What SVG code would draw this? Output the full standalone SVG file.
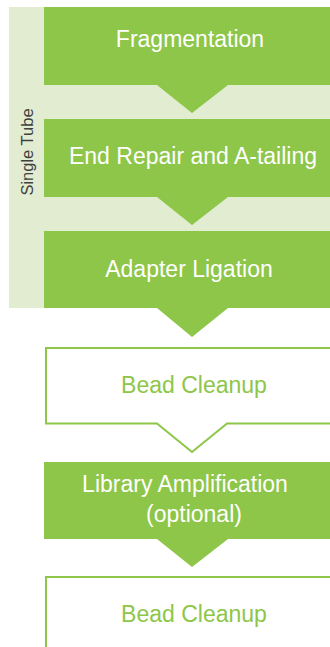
<svg xmlns="http://www.w3.org/2000/svg" width="330" height="647" viewBox="0 0 330 647">
<style>
.fill{fill:#8DC648;stroke:none}
.outl{fill:#ffffff;stroke:#8DC648;stroke-width:2}
.wt{fill:#ffffff;font-family:"Liberation Sans",Arial,sans-serif;font-size:23px;text-anchor:middle}
.gt{fill:#8DC648;font-family:"Liberation Sans",Arial,sans-serif;font-size:23px;text-anchor:middle}
.side{fill:#404040;font-family:"Liberation Sans",Arial,sans-serif;font-size:16.5px;text-anchor:middle}
</style>
<rect width="330" height="647" fill="#ffffff"/>
<g id="single-tube">
<rect x="9" y="7" width="321" height="301" fill="#E1ECD1"/>
<text class="side" transform="translate(33,152) rotate(-90)">Single Tube</text>
</g>
<g id="fragmentation">
<path class="fill" d="M44,7 H330 V85 H228 L192,113 L157,85 H44 Z"/>
<text class="wt" x="190" y="47">Fragmentation</text>
</g>
<g id="end-repair">
<path class="fill" d="M44,119 H330 V197 H228 L192,225 L157,197 H44 Z"/>
<text class="wt" x="193" y="164">End Repair and A-tailing</text>
</g>
<g id="adapter-ligation">
<path class="fill" d="M44,231 H330 V308 H228 L192,337 L157,308 H44 Z"/>
<text class="wt" x="189" y="277">Adapter Ligation</text>
</g>
<g id="bead-cleanup-1">
<path class="outl" d="M332,348 H46 V423.5 H157 L192,452 L227,423.5 H332"/>
<text class="gt" x="194" y="393">Bead Cleanup</text>
</g>
<g id="library-amplification">
<path class="fill" d="M44,462 H330 V539 H228 L192,567 L157,539 H44 Z"/>
<text class="wt" x="185" y="492">Library Amplification</text>
<text class="wt" x="194" y="522">(optional)</text>
</g>
<g id="bead-cleanup-2">
<path class="outl" d="M332,577 H46 V650"/>
<text class="gt" x="194" y="622">Bead Cleanup</text>
</g>
<g id="connectors"/>
</svg>
